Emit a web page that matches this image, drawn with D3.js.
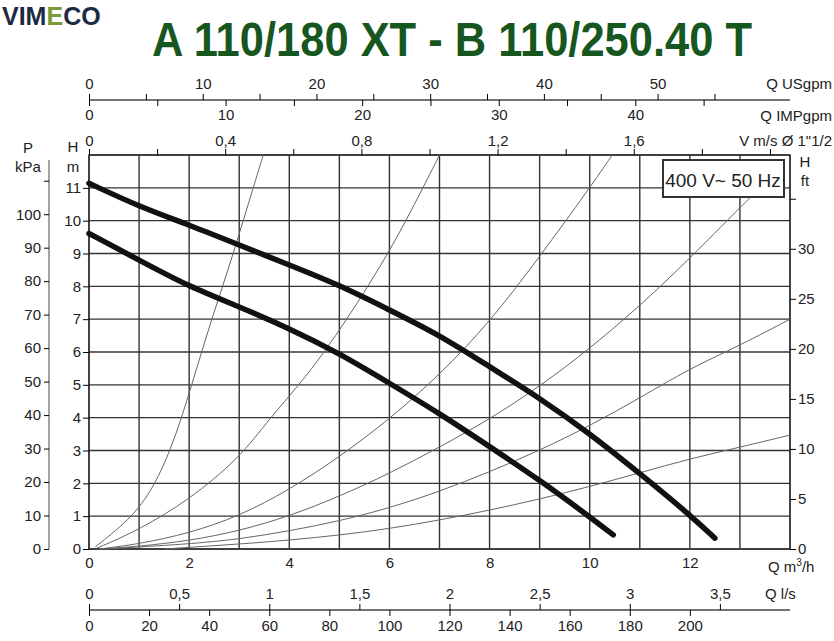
<!DOCTYPE html>
<html>
<head>
<meta charset="utf-8">
<script src="https://cdn.jsdelivr.net/npm/d3@7"></script>
<style>
  body { margin: 0; background: #fff; }
  text { font-family: "Liberation Sans", Arial, sans-serif; fill: #222; }
</style>
</head>
<body>
<svg id="chart" width="834" height="641"></svg>
<script>
// pump curves, Q m3/h vs H m
var pumpA = [[0,11.14],[1,10.43],[2,9.87],[3,9.26],[4,8.65],[5,8.04],[6,7.28],[7,6.52],[8,5.55],[9,4.6],[10,3.52],[11,2.3],[12,1.04],[12.5,0.33]];
var pumpB = [[0,9.61],[1,8.8],[2,7.99],[3,7.38],[4,6.72],[5,5.96],[6,5.05],[7,4.13],[8,3.12],[9,2.1],[10,0.98],[10.47,0.43]];

// thin system curves
var sys1 = [[0.13,0.07],[0.9,1],[1.33,2],[1.62,3],[1.85,4],[2.05,5],[2.25,6],[2.45,7],[2.67,8],[2.88,9],[3.08,10],[3.28,11],[3.48,12]];
var sys2 = [[0.15,0.02],[1,0.58],[2,1.5],[3,2.76],[3.62,4],[4.2,5],[4.7,6],[5.15,7],[5.57,8],[5.97,9],[6.33,10],[6.67,11],[7.0,12]];
var sys3 = [[0.2,0],[1,0.15],[2,0.48],[3,1.0],[4,1.8],[5,2.8],[6,3.95],[7,5.3],[8,6.9],[9,8.9],[10,11],[10.45,12]];
var sys4 = [[0.2,0],[1,0.08],[2,0.25],[3,0.55],[4,1.0],[5,1.6],[6,2.3],[7,3.1],[8,3.95],[9,4.95],[10,6.1],[11,7.4],[12,8.85],[13,10.4],[13.6,11.3]];
var sys5 = [[0.3,0],[2,0.15],[3,0.3],[4,0.55],[5,0.85],[6,1.25],[7,1.75],[8,2.35],[9,3.0],[10,3.75],[11,4.6],[12,5.5],[13,6.2],[14,7.0]];
var sys6 = [[1.5,0],[3,0.15],[4,0.27],[5,0.42],[6,0.62],[7,0.88],[8,1.18],[9,1.52],[10,1.9],[11,2.32],[12,2.75],[13,3.1],[14,3.47]];

var qTicks = [0,2,4,6,8,10,12];
var hTicks = [0,1,2,3,4,5,6,7,8,9,10,11];
var kpaTicks = [0,10,20,30,40,50,60,70,80,90,100];
var ftTicks = [0,5,10,15,20,25,30];
var usTicks = [0,10,20,30,40,50];
var impTicks = [0,10,20,30,40];
var vTicks = [0,0.4,0.8,1.2,1.6];
var lsTicks = [0,0.5,1,1.5,2,2.5,3,3.5];
var lminTicks = [0,20,40,60,80,100,120,140,160,180,200];

var svg = d3.select("#chart");
var L = 89, R = 790, T = 155, B = 549;

var x = d3.scaleLinear().domain([0, 14]).range([L, R]);
var y = d3.scaleLinear().domain([0, 12]).range([B, T]);
var yKpa = d3.scaleLinear().domain([0, 110]).range([B, y(110 / 9.80665)]);

// logo + title
var logo = svg.append("text").attr("x", 2).attr("y", 25).style("font-size", "25px").style("font-weight", "bold");
logo.append("tspan").text("VIM").style("fill", "#1c2a44");
logo.append("tspan").text("E").style("fill", "#7a9a3a");
logo.append("tspan").text("CO").style("fill", "#1c2a44");

svg.append("text").attr("x", 152).attr("y", 56)
    .attr("textLength", 600).attr("lengthAdjust", "spacingAndGlyphs")
    .style("font-size", "48px").style("font-weight", "bold").style("fill", "#17571f")
    .text("A 110/180 XT - B 110/250.40 T");

// grid
var grid = svg.append("g").attr("stroke", "#333").attr("stroke-width", 1.4);
d3.range(0, 15).forEach(function(q){
    grid.append("line").attr("x1", x(q)).attr("x2", x(q)).attr("y1", T).attr("y2", B);
});
d3.range(0, 13).forEach(function(h){
    grid.append("line").attr("x1", L).attr("x2", R).attr("y1", y(h)).attr("y2", y(h));
});
svg.append("rect").attr("x", L).attr("y", T).attr("width", R - L).attr("height", B - T)
    .attr("fill", "none").attr("stroke", "#333").attr("stroke-width", 1.5);

// system curves
var line = d3.line().x(function(d){ return x(d[0]); }).y(function(d){ return y(d[1]); }).curve(d3.curveBasis);
[sys1, sys2, sys3, sys4, sys5, sys6].forEach(function(s){
    svg.append("path").attr("d", line(s)).attr("fill", "none").attr("stroke", "#666").attr("stroke-width", 1);
});

// pump curves
[pumpA, pumpB].forEach(function(p){
    svg.append("path").attr("d", line(p)).attr("fill", "none").attr("stroke", "#111")
        .attr("stroke-width", 5.5).attr("stroke-linecap", "round");
});

// voltage box
svg.append("rect").attr("x", 663).attr("y", 160).attr("width", 121).attr("height", 37)
    .attr("fill", "#fff").attr("stroke", "#333").attr("stroke-width", 2);
svg.append("text").attr("x", 723).attr("y", 187).attr("text-anchor", "middle")
    .style("font-size", "19px").text("400 V~ 50 Hz");

function fmt(v){ return String(v).replace(".", ","); }

// bottom Q m3/h
svg.append("g").attr("transform", "translate(0," + B + ")")
    .call(d3.axisBottom(x).tickValues(qTicks).tickSize(0).tickPadding(8).tickFormat(fmt))
    .call(function(g){ g.select(".domain").remove(); g.selectAll("text").style("font-size", "15px"); });
var qm = svg.append("text").attr("x", 768).attr("y", 572).style("font-size", "15px");
qm.append("tspan").text("Q m");
qm.append("tspan").text("3").attr("dy", -6).style("font-size", "10px");
qm.append("tspan").text("/h").attr("dy", 6);

// left m axis
svg.append("g").attr("transform", "translate(" + L + ",0)")
    .call(d3.axisLeft(y).tickValues(hTicks).tickSize(6).tickPadding(2))
    .call(function(g){ g.select(".domain").remove(); g.selectAll("text").style("font-size", "15px"); });
svg.append("text").attr("x", 73).attr("y", 152).attr("text-anchor", "middle").style("font-size", "15px").text("H");
svg.append("text").attr("x", 73).attr("y", 172).attr("text-anchor", "middle").style("font-size", "15px").text("m");

// left kPa axis
svg.append("g").attr("transform", "translate(49,0)")
    .call(d3.axisLeft(yKpa).tickValues(kpaTicks.concat([110])).tickSize(5).tickPadding(3)
        .tickFormat(function(d){ return d === 110 ? "" : d; }))
    .call(function(g){
        g.select(".domain").attr("d", "M0," + B + "V" + 160).attr("stroke", "#444");
        g.selectAll("text").style("font-size", "15px");
    });
svg.append("text").attr("x", 28).attr("y", 153).attr("text-anchor", "middle").style("font-size", "15px").text("P");
svg.append("text").attr("x", 28).attr("y", 172).attr("text-anchor", "middle").style("font-size", "15px").text("kPa");

// right ft axis
var yFt = d3.scaleLinear().domain([0, 12 / 0.3048]).range([B, T]);
svg.append("g").attr("transform", "translate(" + R + ",0)")
    .call(d3.axisRight(yFt).tickValues(ftTicks.concat([35])).tickSize(6).tickPadding(2)
        .tickFormat(function(d){ return d === 35 ? "" : d; }))
    .call(function(g){ g.select(".domain").remove(); g.selectAll("text").style("font-size", "15px"); });
svg.append("text").attr("x", 805).attr("y", 167).attr("text-anchor", "middle").style("font-size", "15px").text("H");
svg.append("text").attr("x", 805).attr("y", 186).attr("text-anchor", "middle").style("font-size", "15px").text("ft");

// top axes: USgpm (ticks up) and IMPgpm (ticks down) sharing a line
var xUs = d3.scaleLinear().domain([0, 14 * 4.403]).range([L, R]);
var xImp = d3.scaleLinear().domain([0, 14 * 3.666]).range([L, R]);
svg.append("line").attr("x1", L).attr("x2", R).attr("y1", 100).attr("y2", 100).attr("stroke", "#444").attr("stroke-width", 1.3);
svg.append("g").attr("transform", "translate(0,100)")
    .call(d3.axisTop(xUs).tickValues(usTicks).tickSize(6).tickPadding(5))
    .call(function(g){ g.select(".domain").remove(); g.selectAll("text").style("font-size", "15px"); });
svg.append("g").attr("transform", "translate(0,100)")
    .call(d3.axisTop(xUs).tickValues([5,15,25,35,45,55]).tickSize(6).tickFormat(""))
    .call(function(g){ g.select(".domain").remove(); });
svg.append("g").attr("transform", "translate(0,100)")
    .call(d3.axisBottom(xImp).tickValues(impTicks).tickSize(6).tickPadding(3))
    .call(function(g){ g.select(".domain").remove(); g.selectAll("text").style("font-size", "15px"); });
svg.append("g").attr("transform", "translate(0,100)")
    .call(d3.axisBottom(xImp).tickValues([5,15,25,35,45]).tickSize(6).tickFormat(""))
    .call(function(g){ g.select(".domain").remove(); });
svg.append("text").attr("x", 832).attr("y", 89).attr("text-anchor", "end").style("font-size", "15px").text("Q USgpm");
svg.append("text").attr("x", 832).attr("y", 121).attr("text-anchor", "end").style("font-size", "15px").text("Q IMPgpm");

// velocity axis on plot top
var xV = d3.scaleLinear().domain([0, 14 / 6.8]).range([L, R]);
svg.append("g").attr("transform", "translate(0," + T + ")")
    .call(d3.axisTop(xV).tickValues(vTicks).tickSize(6).tickPadding(3).tickFormat(fmt))
    .call(function(g){ g.select(".domain").remove(); g.selectAll("text").style("font-size", "15px"); });
svg.append("g").attr("transform", "translate(0," + T + ")")
    .call(d3.axisTop(xV).tickValues([0.2,0.6,1.0,1.4,1.8,2.0]).tickSize(6).tickFormat(""))
    .call(function(g){ g.select(".domain").remove(); });
svg.append("text").attr("x", 832).attr("y", 146).attr("text-anchor", "end").style("font-size", "15px").text("V m/s Ø 1\"1/2");

// bottom l/s and l/min
var xLs = d3.scaleLinear().domain([0, 14 / 3.6]).range([L, R]);
var xLmin = d3.scaleLinear().domain([0, 14 / 0.06]).range([L, R]);
svg.append("line").attr("x1", L).attr("x2", R).attr("y1", 610).attr("y2", 610).attr("stroke", "#444").attr("stroke-width", 1.3);
svg.append("g").attr("transform", "translate(0,610)")
    .call(d3.axisTop(xLs).tickValues(lsTicks).tickSize(6).tickPadding(5).tickFormat(fmt))
    .call(function(g){ g.select(".domain").remove(); g.selectAll("text").style("font-size", "15px"); });
svg.append("g").attr("transform", "translate(0,610)")
    .call(d3.axisBottom(xLmin).tickValues(lminTicks).tickSize(6).tickPadding(4))
    .call(function(g){ g.select(".domain").remove(); g.selectAll("text").style("font-size", "15px"); });
svg.append("text").attr("x", 765).attr("y", 599).style("font-size", "15px").text("Q l/s");
</script>
</body>
</html>
